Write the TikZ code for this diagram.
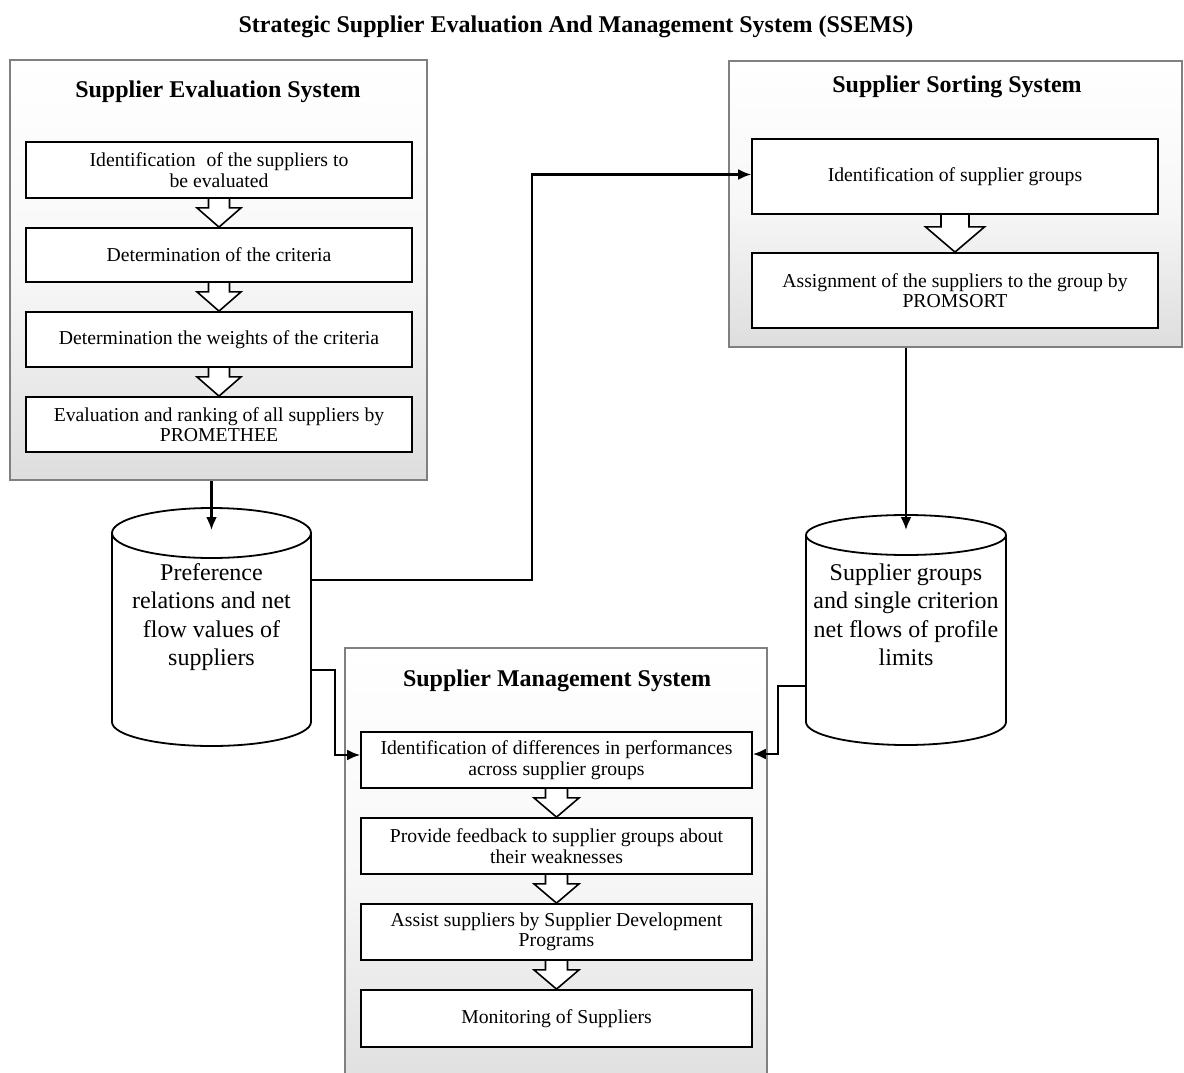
\documentclass[tikz,border=0pt]{standalone}
\usepackage{fontspec}
\setmainfont{Liberation Serif}
\usetikzlibrary{arrows.meta,calc}
\pgfdeclarelayer{bg}
\pgfdeclarelayer{mid}
\pgfsetlayers{bg,mid,main}
\newcommand{\blockarr}[5]{%
  \draw[blk] ($(#1.south)+(-#3,0)$) -- ($(#1.south)+(-#3,#5)$) -- ($(#1.south)+(-#4,#5)$)
    -- (#2.north) -- ($(#1.south)+(#4,#5)$) -- ($(#1.south)+(#3,#5)$) -- ($(#1.south)+(#3,0)$);}
\begin{document}
\begin{tikzpicture}[x=1pt,y=-1pt,
  panel/.style={draw=black!50, line width=2pt, top color=white, bottom color=black!13, middle color=black!3, inner sep=0pt},
  ptitle/.style={font=\fontsize{24}{28}\selectfont\bfseries, inner sep=0pt},
  stepbox/.style={draw=black, line width=1.8pt, fill=white, inner sep=0pt, align=center, font=\fontsize{19.7}{20.5}\selectfont},
  blk/.style={draw=black, line width=1.6pt, fill=white, line join=miter},
  conn/.style={draw=black, line width=2.2pt, -{Latex[length=13pt,width=11pt]}},
  cyl/.style={draw=black, line width=1.8pt, fill=white},
  cyltext/.style={align=center, font=\fontsize{24}{28.5}\selectfont, inner sep=0pt},
]
\useasboundingbox (0,0) rectangle (1184,1073);
\clip (0,0) rectangle (1184,1073);

\node[font=\fontsize{24}{28}\selectfont\bfseries, inner sep=0pt] (title) at (576,27) {Strategic Supplier Evaluation And Management System (SSEMS)};

\begin{pgfonlayer}{bg}
\fill[white] (0,0) rectangle (1184,1073);
\node[panel, minimum width=417pt, minimum height=420pt] (pL) at (218.5,270) {};
\node[panel, minimum width=453pt, minimum height=286pt] (pR) at (955.5,204) {};
\node[panel, minimum width=422pt, minimum height=450pt] (pM) at (556,873) {};
\end{pgfonlayer}

\node[ptitle] (tL) at (218,92) {Supplier Evaluation System};
\node[ptitle] (tR) at (957,87) {Supplier Sorting System};
\node[ptitle] (tM) at (557,681) {Supplier Management System};

% left panel steps
\node[stepbox, minimum width=386pt, minimum height=56pt] (e1) at (219,170) {Identification\hspace{0.3em} of the suppliers to\\be evaluated};
\node[stepbox, minimum width=386pt, minimum height=54pt] (e2) at (219,255) {Determination of the criteria};
\node[stepbox, minimum width=386pt, minimum height=55pt] (e3) at (219,339.5) {Determination the weights of the criteria};
\node[stepbox, minimum width=386pt, minimum height=55pt] (e4) at (219,424.5) {Evaluation and ranking of all suppliers by\\PROMETHEE};

% right panel steps
\node[stepbox, minimum width=406pt, minimum height=75pt] (s1) at (955,176.5) {Identification of supplier groups};
\node[stepbox, minimum width=406pt, minimum height=75pt] (s2) at (955,290.5) {Assignment of the suppliers to the group by\\PROMSORT};

% bottom panel steps
\node[stepbox, minimum width=391pt, minimum height=56pt] (m1) at (556.5,760) {Identification of differences in performances\\across supplier groups};
\node[stepbox, minimum width=391pt, minimum height=56pt] (m2) at (556.5,846) {Provide feedback to supplier groups about\\their weaknesses};
\node[stepbox, minimum width=391pt, minimum height=56pt] (m3) at (556.5,932) {Assist suppliers by Supplier Development\\Programs};
\node[stepbox, minimum width=391pt, minimum height=57pt] (m4) at (556.5,1018.5) {Monitoring of Suppliers};

\begin{pgfonlayer}{mid}
\blockarr{e1}{e2}{10.5}{22}{9}
\blockarr{e2}{e3}{10.5}{22}{9}
\blockarr{e3}{e4}{10.5}{22}{9}
\blockarr{s1}{s2}{14}{29.5}{12}
\blockarr{m1}{m2}{11}{22.5}{9}
\blockarr{m2}{m3}{11}{22.5}{9}
\blockarr{m3}{m4}{11}{22.5}{9}
\end{pgfonlayer}

% cylinders
\draw[cyl] (112,533) -- (112,722) arc[start angle=180, end angle=360, x radius=99.5pt, y radius=24pt] -- (311,533);
\draw[cyl] (211.5,533) ellipse [x radius=99.5pt, y radius=25pt];
\draw[cyl] (806,535) -- (806,722) arc[start angle=180, end angle=360, x radius=100pt, y radius=23pt] -- (1006,535);
\draw[cyl] (906,535) ellipse [x radius=100pt, y radius=20pt];

\node[cyltext] (cL) at (211.5,617) {Preference\\relations and net\\flow values of\\suppliers};
\node[cyltext] (cR) at (906,615) {Supplier groups\\and single criterion\\net flows of profile\\limits};

\coordinate (cLtop) at (211.5,530);
\coordinate (cLo1) at (311,580);
\coordinate (cLo2) at (311,670);
\coordinate (cRtop) at (906,530);
\coordinate (cRo) at (806,686);

% connectors
\draw[conn] (cLtop |- pL.south) -- (cLtop);
\draw[conn] (cRtop |- pR.south) -- (cRtop);
\draw[conn] (cLo1) -- ++(221,0) |- ($(s1.west)+(0,-2)$);
\draw[conn] (cLo2) -- ++(24,0) |- ($(m1.west)+(0,-5)$);
\draw[conn] (cRo) -- ++(-28,0) |- ($(m1.east)+(0,-6)$);
\end{tikzpicture}
\end{document}
